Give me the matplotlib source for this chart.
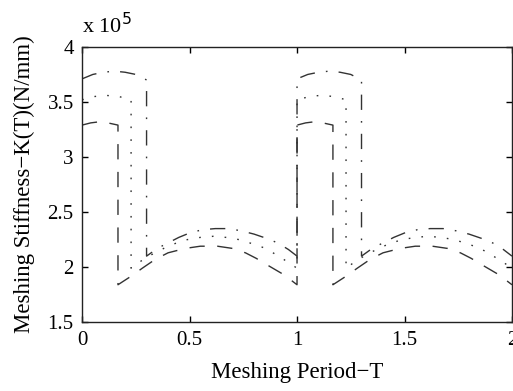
import matplotlib
matplotlib.use("Agg")
import matplotlib.pyplot as plt

plt.rcParams['font.family'] = ['Liberation Serif', 'DejaVu Serif']
plt.rcParams['lines.scale_dashes'] = False

# meshing stiffness, units of 1e5 N/mm
x_k1 = [0, 0.04, 0.08, 0.12, 0.167, 0.167, 0.23, 0.28, 0.34, 0.40, 0.48, 0.55, 0.63, 0.70, 0.76, 0.81, 0.87, 0.94, 1.0,
        1.0, 1.04, 1.08, 1.12, 1.167, 1.167, 1.23, 1.28, 1.34, 1.40, 1.48, 1.55, 1.63, 1.70, 1.76, 1.81, 1.87, 1.94, 2.0]
k1 = [3.29, 3.31, 3.32, 3.31, 3.29, 1.84, 1.92, 1.99, 2.07, 2.13, 2.17, 2.19, 2.19, 2.17, 2.13, 2.08, 2.01, 1.93, 1.84,
      3.29, 3.31, 3.32, 3.31, 3.29, 1.84, 1.92, 1.99, 2.07, 2.13, 2.17, 2.19, 2.19, 2.17, 2.13, 2.08, 2.01, 1.93, 1.84]

x_k2 = [0, 0.06, 0.11, 0.17, 0.228, 0.228, 0.27, 0.32, 0.39, 0.44, 0.49, 0.55, 0.61, 0.67, 0.73, 0.78, 0.84, 0.88, 0.93, 0.97, 1.0,
        1.0, 1.06, 1.11, 1.17, 1.228, 1.228, 1.27, 1.32, 1.39, 1.44, 1.49, 1.55, 1.61, 1.67, 1.73, 1.78, 1.84, 1.88, 1.93, 1.97, 2.0]
k2 = [3.52, 3.55, 3.56, 3.55, 3.52, 1.99, 2.05, 2.11, 2.18, 2.22, 2.25, 2.27, 2.28, 2.27, 2.25, 2.22, 2.18, 2.14, 2.08, 2.03, 1.99,
      3.52, 3.55, 3.56, 3.55, 3.52, 1.99, 2.05, 2.11, 2.18, 2.22, 2.25, 2.27, 2.28, 2.27, 2.25, 2.22, 2.18, 2.14, 2.08, 2.03, 1.99]

x_k3 = [0, 0.05, 0.10, 0.15, 0.20, 0.25, 0.30, 0.30, 0.35, 0.40, 0.45, 0.50, 0.56, 0.62, 0.68, 0.74, 0.80, 0.86, 0.91, 0.96, 1.0,
        1.0, 1.05, 1.10, 1.15, 1.20, 1.25, 1.30, 1.30, 1.35, 1.40, 1.45, 1.50, 1.56, 1.62, 1.68, 1.74, 1.80, 1.86, 1.91, 1.96, 2.0]
k3 = [3.71, 3.75, 3.77, 3.78, 3.77, 3.75, 3.70, 2.10, 2.17, 2.22, 2.27, 2.31, 2.34, 2.35, 2.35, 2.33, 2.30, 2.26, 2.22, 2.16, 2.10,
      3.71, 3.75, 3.77, 3.78, 3.77, 3.75, 3.70, 2.10, 2.17, 2.22, 2.27, 2.31, 2.34, 2.35, 2.35, 2.33, 2.30, 2.26, 2.22, 2.16, 2.10]

xticks = [0, 0.5, 1, 1.5, 2]
xtick_labels = ['0', '0.5', '1', '1.5', '2']
yticks = [1.5, 2, 2.5, 3, 3.5, 4]
ytick_labels = ['1.5', '2', '2.5', '3', '3.5', '4']

fig = plt.figure(figsize=(5.13, 3.91), dpi=100)
ax = fig.add_axes([0.160, 0.176, 0.838, 0.704])

c = '#333333'
lw = 1.0
ax.plot(x_k1, k1, color=c, lw=lw, dashes=(11, 9))
ax.plot(x_k2, k2, color=c, lw=lw, dashes=(1.2, 8))
ax.plot(x_k3, k3, color=c, lw=lw, dashes=(11, 8, 1.2, 8))

ax.set_xlim(0, 2)
ax.set_ylim(1.5, 4)
ax.set_xticks(xticks)
ax.set_xticklabels(xtick_labels)
ax.set_yticks(yticks)
ax.set_yticklabels(ytick_labels)
ax.tick_params(direction='in', length=4, width=1, top=True, right=True,
               labelsize=15)
ax.tick_params(axis='x', pad=6)
ax.tick_params(axis='y', pad=6)
for s in ax.spines.values():
    s.set_linewidth(1)
    s.set_color('#222222')

ax.set_xlabel('Meshing Period\u2212T', fontsize=16.5, labelpad=9)
ax.set_ylabel('Meshing Stiffness\u2212K(T)(N/mm)', fontsize=16.5, labelpad=9)
fig.text(0.160, 0.915, r'x 10$^{5}$', fontsize=16, ha='left', va='baseline')

fig.savefig('out.png', dpi=100)
